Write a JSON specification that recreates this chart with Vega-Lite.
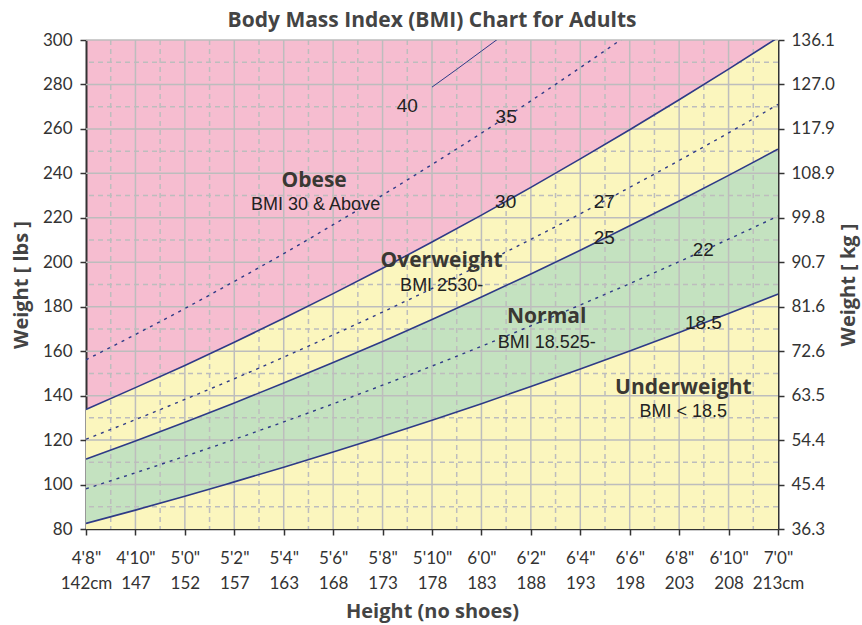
{
  "$schema": "https://vega.github.io/schema/vega-lite/v6.json",
  "width": 692,
  "height": 489,
  "autosize": {"type": "none"},
  "padding": {"left": 86, "top": 40, "right": 84, "bottom": 96},
  "background": "white",
  "view": {"fill": "#F6BDD0", "stroke": null},
  "title": {"text": "Body Mass Index (BMI) Chart for Adults", "font": "Open Sans", "fontSize": 21, "fontWeight": "bold", "color": "#444444", "offset": 0},
  "resolve": {"axis": {"x": "independent", "y": "independent"}},
  "datasets": {
    "bmi": [
      {"h": 56, "w185": 82.5, "w22": 98.1, "w25": 111.5, "w27": 120.4, "w30": 133.8, "w35": 156.1},
      {"h": 58, "w185": 88.5, "w22": 105.3, "w25": 119.6, "w27": 129.2, "w30": 143.6, "w35": 167.5},
      {"h": 60, "w185": 94.7, "w22": 112.7, "w25": 128.0, "w27": 138.3, "w30": 153.6, "w35": 179.2},
      {"h": 62, "w185": 101.2, "w22": 120.3, "w25": 136.7, "w27": 147.6, "w30": 164.0, "w35": 191.4},
      {"h": 64, "w185": 107.8, "w22": 128.2, "w25": 145.7, "w27": 157.3, "w30": 174.8, "w35": 203.9},
      {"h": 66, "w185": 114.6, "w22": 136.3, "w25": 154.9, "w27": 167.3, "w30": 185.9, "w35": 216.9},
      {"h": 68, "w185": 121.7, "w22": 144.7, "w25": 164.4, "w27": 177.6, "w30": 197.3, "w35": 230.2},
      {"h": 70, "w185": 128.9, "w22": 153.3, "w25": 174.3, "w27": 188.2, "w30": 209.1, "w35": 244.0},
      {"h": 72, "w185": 136.4, "w22": 162.2, "w25": 184.4, "w27": 199.1, "w30": 221.2, "w35": 258.1},
      {"h": 74, "w185": 144.1, "w22": 171.4, "w25": 194.7, "w27": 210.3, "w30": 233.7, "w35": 272.6},
      {"h": 76, "w185": 152.0, "w22": 180.8, "w25": 205.4, "w27": 221.8, "w30": 246.5, "w35": 287.6},
      {"h": 78, "w185": 160.1, "w22": 190.4, "w25": 216.4, "w27": 233.7, "w30": 259.6, "w35": 302.9},
      {"h": 80, "w185": 168.4, "w22": 200.3, "w25": 227.6, "w27": 245.8, "w30": 273.1, "w35": 318.6},
      {"h": 82, "w185": 176.9, "w22": 210.4, "w25": 239.1, "w27": 258.2, "w30": 286.9, "w35": 334.8},
      {"h": 84, "w185": 185.7, "w22": 220.8, "w25": 250.9, "w27": 271.0, "w30": 301.1, "w35": 351.3}
    ],
    "bmi40": [
      {"h": 70, "w": 278.8},
      {"h": 71, "w": 286.8},
      {"h": 72, "w": 295.0},
      {"h": 73, "w": 303.2}
    ],
    "gridMajorX": [{"h": 58}, {"h": 60}, {"h": 62}, {"h": 64}, {"h": 66}, {"h": 68}, {"h": 70}, {"h": 72}, {"h": 74}, {"h": 76}, {"h": 78}, {"h": 80}, {"h": 82}],
    "gridMinorX": [{"h": 57}, {"h": 59}, {"h": 61}, {"h": 63}, {"h": 65}, {"h": 67}, {"h": 69}, {"h": 71}, {"h": 73}, {"h": 75}, {"h": 77}, {"h": 79}, {"h": 81}, {"h": 83}],
    "gridMajorY": [{"w": 100}, {"w": 120}, {"w": 140}, {"w": 160}, {"w": 180}, {"w": 200}, {"w": 220}, {"w": 240}, {"w": 260}, {"w": 280}, {"w": 300}],
    "gridMinorY": [{"w": 90}, {"w": 110}, {"w": 130}, {"w": 150}, {"w": 170}, {"w": 190}, {"w": 210}, {"w": 230}, {"w": 250}, {"w": 270}, {"w": 290}],
    "heads": [
      {"label": "Obese", "h": 65.23, "w": 236.6},
      {"label": "Overweight", "h": 70.39, "w": 200.6},
      {"label": "Normal", "h": 74.64, "w": 175.5},
      {"label": "Underweight", "h": 80.17, "w": 143.6}
    ],
    "subs": [
      {"label": "BMI 30 & Above", "h": 65.29, "w": 225.8},
      {"label": "BMI 2530-", "h": 70.39, "w": 189.3},
      {"label": "BMI 18.525-", "h": 74.64, "w": 163.8},
      {"label": "BMI < 18.5", "h": 80.17, "w": 132.8}
    ],
    "nums": [
      {"label": "40", "h": 69.0, "w": 270.3},
      {"label": "35", "h": 73.0, "w": 265.2},
      {"label": "30", "h": 72.98, "w": 227.3},
      {"label": "27", "h": 76.97, "w": 227.3},
      {"label": "25", "h": 76.97, "w": 210.8},
      {"label": "22", "h": 80.98, "w": 205.5},
      {"label": "18.5", "h": 80.98, "w": 172.5}
    ]
  },
  "layer": [
    {
      "data": {"name": "bmi"},
      "mark": {"type": "area", "color": "#FBF6BE", "clip": true, "interpolate": "monotone"},
      "encoding": {
        "x": {"field": "h", "type": "quantitative", "scale": {"domain": [56, 84], "nice": false, "zero": false},
          "axis": {"orient": "bottom", "values": [56, 58, 60, 62, 64, 66, 68, 70, 72, 74, 76, 78, 80, 82, 84], "grid": false,
            "labelExpr": "[floor(datum.value/12) + \"'\" + (datum.value % 12) + '\"', round(datum.value*2.54) + ((datum.value == 56 || datum.value == 84) ? 'cm' : '')]",
            "labelFont": "Lato", "labelFontSize": 17, "labelColor": "#333333", "labelLineHeight": 25, "labelPadding": 15, "labelOverlap": false, "labelFlush": false,
            "domainColor": "#333333", "domainWidth": 1.5, "tickColor": "#333333", "tickSize": 6, "tickWidth": 1.5,
            "title": "Height (no shoes)", "titleFont": "Open Sans", "titleFontSize": 20, "titleFontWeight": "bold", "titleColor": "#444444", "titlePadding": 10}},
        "y": {"field": "w30", "type": "quantitative", "scale": {"domain": [80, 300], "nice": false, "zero": false},
          "axis": {"orient": "left", "values": [80, 100, 120, 140, 160, 180, 200, 220, 240, 260, 280, 300], "grid": false,
            "labelFont": "Lato", "labelFontSize": 17, "labelColor": "#333333", "labelPadding": 8,
            "domainColor": "#333333", "domainWidth": 2, "tickColor": "#333333", "tickSize": 6, "tickWidth": 1.5,
            "title": "Weight [ lbs ]", "titleFont": "Open Sans", "titleFontSize": 20, "titleFontWeight": "bold", "titleColor": "#444444", "titlePadding": 11}},
        "y2": {"datum": 80}
      }
    },
    {
      "data": {"name": "bmi"},
      "mark": {"type": "area", "color": "#C4E2C0", "clip": true, "interpolate": "monotone"},
      "encoding": {
        "x": {"field": "h", "type": "quantitative", "scale": {"domain": [56, 84], "nice": false, "zero": false}, "axis": null},
        "y": {"field": "w25", "type": "quantitative", "scale": {"domain": [80, 300], "nice": false, "zero": false},
          "axis": {"orient": "right", "values": [80, 100, 120, 140, 160, 180, 200, 220, 240, 260, 280, 300], "grid": false,
            "labelExpr": "format(datum.value * 0.45359237, '.1f')",
            "labelFont": "Lato", "labelFontSize": 17, "labelColor": "#333333", "labelPadding": 7,
            "domainColor": "#333333", "domainWidth": 2, "tickColor": "#333333", "tickSize": 6, "tickWidth": 1.5,
            "title": "Weight [ kg ]", "titleFont": "Open Sans", "titleFontSize": 20, "titleFontWeight": "bold", "titleColor": "#444444", "titlePadding": 4, "titleAngle": 270, "titleBaseline": "top"}},
        "y2": {"field": "w185"}
      }
    },
    {
      "data": {"name": "gridMinorX"},
      "mark": {"type": "rule", "color": "#BDBDBD", "strokeWidth": 1.5, "strokeDash": [5, 4]},
      "encoding": {
        "x": {"field": "h", "type": "quantitative", "scale": {"domain": [56, 84], "nice": false, "zero": false}, "axis": null}
      }
    },
    {
      "data": {"name": "gridMinorY"},
      "mark": {"type": "rule", "color": "#BDBDBD", "strokeWidth": 1.5, "strokeDash": [5, 4]},
      "encoding": {
        "y": {"field": "w", "type": "quantitative", "scale": {"domain": [80, 300], "nice": false, "zero": false}, "axis": null}
      }
    },
    {
      "data": {"name": "gridMajorX"},
      "mark": {"type": "rule", "color": "#BDBDBD", "strokeWidth": 1.5},
      "encoding": {
        "x": {"field": "h", "type": "quantitative", "scale": {"domain": [56, 84], "nice": false, "zero": false}, "axis": null}
      }
    },
    {
      "data": {"name": "gridMajorY"},
      "mark": {"type": "rule", "color": "#BDBDBD", "strokeWidth": 1.5},
      "encoding": {
        "y": {"field": "w", "type": "quantitative", "scale": {"domain": [80, 300], "nice": false, "zero": false}, "axis": null}
      }
    },
    {
      "data": {"name": "bmi"},
      "transform": [{"fold": ["w22", "w27", "w35"], "as": ["bmi", "w"]}],
      "mark": {"type": "line", "color": "#2E3A87", "strokeWidth": 1.4, "strokeDash": [3, 5], "clip": true, "interpolate": "monotone"},
      "encoding": {
        "x": {"field": "h", "type": "quantitative", "scale": {"domain": [56, 84], "nice": false, "zero": false}, "axis": null},
        "y": {"field": "w", "type": "quantitative", "scale": {"domain": [80, 300], "nice": false, "zero": false}, "axis": null},
        "detail": {"field": "bmi"}
      }
    },
    {
      "data": {"name": "bmi"},
      "transform": [{"fold": ["w185", "w25", "w30"], "as": ["bmi", "w"]}],
      "mark": {"type": "line", "color": "#2E3A87", "strokeWidth": 1.6, "clip": true, "interpolate": "monotone"},
      "encoding": {
        "x": {"field": "h", "type": "quantitative", "scale": {"domain": [56, 84], "nice": false, "zero": false}, "axis": null},
        "y": {"field": "w", "type": "quantitative", "scale": {"domain": [80, 300], "nice": false, "zero": false}, "axis": null},
        "detail": {"field": "bmi"}
      }
    },
    {
      "data": {"name": "bmi40"},
      "mark": {"type": "line", "color": "#2E3A87", "strokeWidth": 1, "clip": true, "interpolate": "monotone"},
      "encoding": {
        "x": {"field": "h", "type": "quantitative", "scale": {"domain": [56, 84], "nice": false, "zero": false}, "axis": null},
        "y": {"field": "w", "type": "quantitative", "scale": {"domain": [80, 300], "nice": false, "zero": false}, "axis": null}
      }
    },
    {
      "data": {"name": "heads"},
      "mark": {"type": "text", "font": "Open Sans", "fontSize": 21, "fontWeight": "bold", "color": "#3A3833", "align": "center", "baseline": "middle"},
      "encoding": {
        "x": {"field": "h", "type": "quantitative", "scale": {"domain": [56, 84], "nice": false, "zero": false}, "axis": null},
        "y": {"field": "w", "type": "quantitative", "scale": {"domain": [80, 300], "nice": false, "zero": false}, "axis": null},
        "text": {"field": "label"}
      }
    },
    {
      "data": {"name": "subs"},
      "mark": {"type": "text", "font": "Liberation Sans", "fontSize": 18, "color": "#222222", "align": "center", "baseline": "middle"},
      "encoding": {
        "x": {"field": "h", "type": "quantitative", "scale": {"domain": [56, 84], "nice": false, "zero": false}, "axis": null},
        "y": {"field": "w", "type": "quantitative", "scale": {"domain": [80, 300], "nice": false, "zero": false}, "axis": null},
        "text": {"field": "label"}
      }
    },
    {
      "data": {"name": "nums"},
      "mark": {"type": "text", "font": "Liberation Sans", "fontSize": 19, "color": "#222222", "align": "center", "baseline": "middle"},
      "encoding": {
        "x": {"field": "h", "type": "quantitative", "scale": {"domain": [56, 84], "nice": false, "zero": false}, "axis": null},
        "y": {"field": "w", "type": "quantitative", "scale": {"domain": [80, 300], "nice": false, "zero": false}, "axis": null},
        "text": {"field": "label"}
      }
    }
  ]
}
